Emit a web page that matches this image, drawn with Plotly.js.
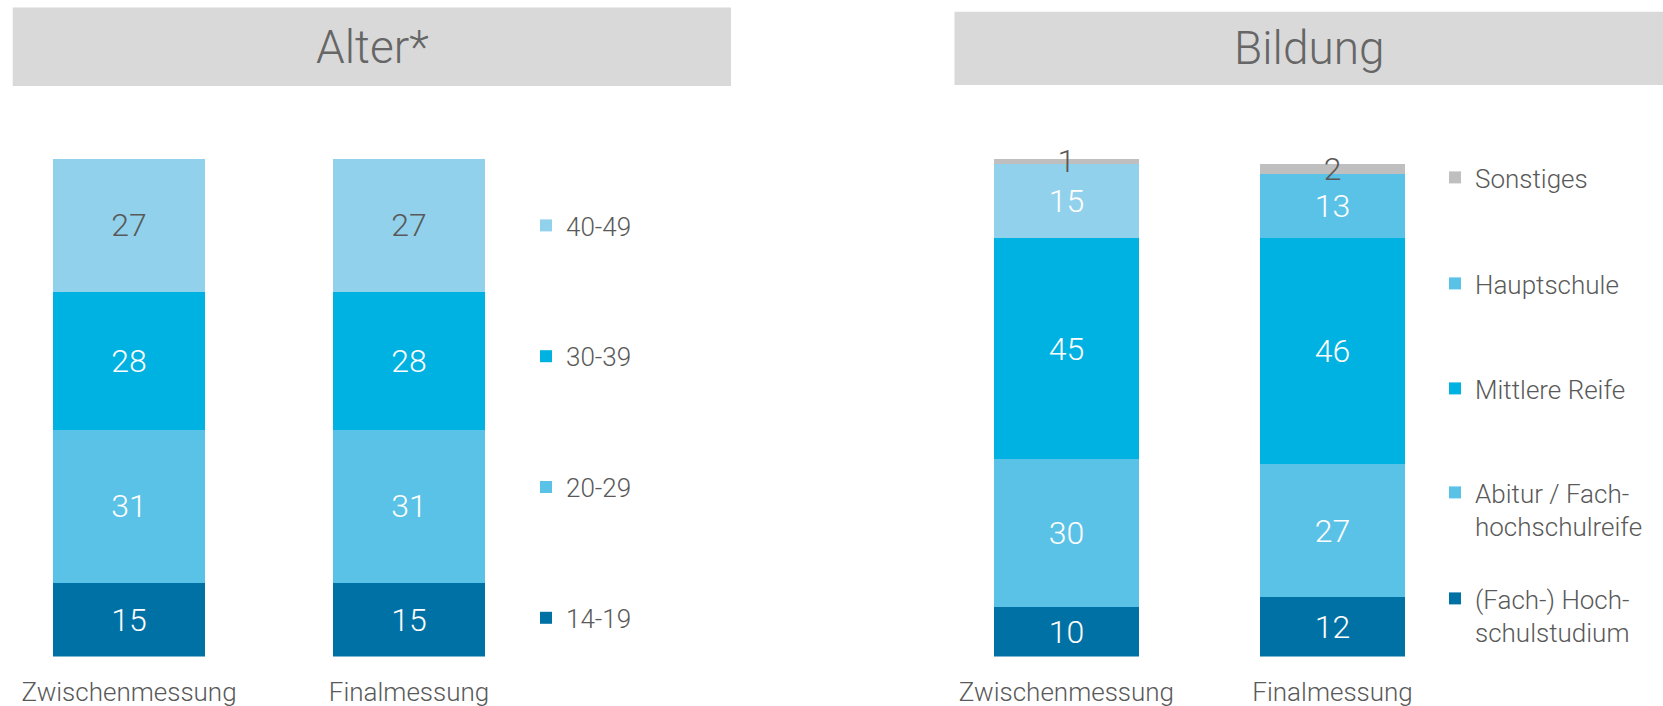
<!DOCTYPE html>
<html>
<head>
<meta charset="utf-8">
<script src="https://cdn.plot.ly/plotly-3.0.1.min.js"></script>
<style>
  html, body { margin: 0; padding: 0; background: #ffffff; }
  #chart { width: 1663px; height: 706px; }
</style>
</head>
<body>
<div id="chart"></div>
<script>
// ---- Data ----
const categories = ['Zwischenmessung', 'Finalmessung'];

// Alter* (age groups), values in %
const ageGroups = ['14-19', '20-29', '30-39', '40-49'];
const age1419 = [15, 15];
const age2029 = [31, 31];
const age3039 = [28, 28];
const age4049 = [27, 27];

// Bildung (education), values in %
const eduGroups = ['(Fach-) Hoch-<br>schulstudium', 'Abitur / Fach-<br>hochschulreife', 'Mittlere Reife', 'Hauptschule', 'Sonstiges'];
const eduHoch   = [10, 12];
const eduAbi    = [30, 27];
const eduMittel = [45, 46];
const eduHaupt  = [15, 13];
const eduSonst  = [1, 2];

// ---- Styling ----
const FONT = 'Roboto';
const TXT = '#595959';
const cDark = '#0071A4', cMid = '#5BC2E7', cStrong = '#00B2E2', cLight = '#92D1EC', cGray = '#BFBFBF';
const W = 1663, H = 706;
const px = v => v / W;
const py = v => 1 - v / H;

const labelFont = (color) => ({family: FONT, size: 32, weight: 300, color: color});

function bar(name, x, y, color, textColor, xa, ya, width, legend, group, rank) {
  return {
    type: 'bar', name: name, x: x, y: y,
    xaxis: xa, yaxis: ya, width: width,
    marker: {color: color, line: {width: 0}},
    text: y.map(String), textposition: 'inside', insidetextanchor: 'middle',
    textangle: 0, constraintext: 'none',
    textfont: labelFont(textColor),
    hoverinfo: 'skip', legend: legend, legendgroup: group, legendrank: rank
  };
}

const wL = 0.543, wR = 0.547;
const traces = [
  bar(ageGroups[0], categories, age1419, cDark, '#ffffff', 'x', 'y', wL, 'legend', 'a1', 4),
  bar(ageGroups[1], categories, age2029, cMid, '#ffffff', 'x', 'y', wL, 'legend', 'a2', 3),
  bar(ageGroups[2], categories, age3039, cStrong, '#ffffff', 'x', 'y', wL, 'legend', 'a3', 2),
  bar(ageGroups[3], categories, age4049, cLight, TXT, 'x', 'y', wL, 'legend', 'a4', 1),

  bar(eduGroups[0], categories, eduHoch, cDark, '#ffffff', 'x2', 'y2', wR, 'legend2', 'b1', 5),
  bar(eduGroups[1], categories, eduAbi, cMid, '#ffffff', 'x2', 'y2', wR, 'legend3', 'b2', 4),
  bar(eduGroups[2], categories, eduMittel, cStrong, '#ffffff', 'x2', 'y2', wR, 'legend4', 'b3', 3),
  // Hauptschule: lighter in the first bar; listed Final first so legend swatch takes the Final colour
  bar(eduGroups[3], categories.slice().reverse(), eduHaupt.slice().reverse(), [cMid, cLight], '#ffffff', 'x2', 'y2', wR, 'legend5', 'b4', 2),
  bar(eduGroups[4], categories, eduSonst, cGray, TXT, 'x2', 'y2', wR, 'legend6', 'b5', 1)
];

const xaxisBase = {
  type: 'category', categoryorder: 'array', categoryarray: categories,
  range: [-0.4, 1.4], fixedrange: true,
  showgrid: false, zeroline: false, showline: false, ticks: '',
  ticklabelstandoff: 17,
  tickfont: {family: FONT, size: 26, weight: 300, color: TXT}
};
const yaxisBase = {
  range: [0, 110], domain: [py(656.5), py(114.6)],
  visible: false, fixedrange: true, showgrid: false, zeroline: false
};

const legendBase = {
  bgcolor: 'rgba(0,0,0,0)', borderwidth: 0,
  font: {family: FONT, size: 26, weight: 300, color: TXT},
  xanchor: 'left', yanchor: 'top', valign: 'top',
  traceorder: 'grouped', itemclick: false, itemdoubleclick: false
};

const layout = {
  width: W, height: H,
  margin: {l: 0, r: 0, t: 0, b: 0},
  paper_bgcolor: '#ffffff', plot_bgcolor: '#ffffff',
  barmode: 'stack',
  showlegend: true,
  uniformtext: {mode: 'show', minsize: 32},
  xaxis: Object.assign({}, xaxisBase, {domain: [px(17), px(521)], anchor: 'y'}),
  yaxis: Object.assign({}, yaxisBase, {anchor: 'x'}),
  xaxis2: Object.assign({}, xaxisBase, {domain: [px(960), px(1439)], anchor: 'y2'}),
  yaxis2: Object.assign({}, yaxisBase, {anchor: 'x2'}),
  legend: Object.assign({}, legendBase, {x: px(526), y: py(202), tracegroupgap: 94}),
  legend2: Object.assign({}, legendBase, {x: px(1435), y: py(575)}),
  legend3: Object.assign({}, legendBase, {x: px(1435), y: py(469)}),
  legend4: Object.assign({}, legendBase, {x: px(1435), y: py(365)}),
  legend5: Object.assign({}, legendBase, {x: px(1435), y: py(260)}),
  legend6: Object.assign({}, legendBase, {x: px(1435), y: py(154)}),
  shapes: [
    {type: 'rect', xref: 'paper', yref: 'paper', x0: px(12.7), x1: px(731), y0: py(86), y1: py(7.4),
     fillcolor: '#D9D9D9', line: {width: 0}, layer: 'below'},
    {type: 'rect', xref: 'paper', yref: 'paper', x0: px(954.5), x1: px(1663), y0: py(85), y1: py(11.7),
     fillcolor: '#D9D9D9', line: {width: 0}, layer: 'below'}
  ],
  annotations: [
    {text: 'Alter*', xref: 'paper', yref: 'paper', x: px(372), y: py(47), xanchor: 'center', yanchor: 'middle',
     showarrow: false, font: {family: FONT, size: 46, weight: 300, color: '#666666'}},
    {text: 'Bildung', xref: 'paper', yref: 'paper', x: px(1309), y: py(48), xanchor: 'center', yanchor: 'middle',
     showarrow: false, font: {family: FONT, size: 46, weight: 300, color: '#666666'}}
  ]
};

Plotly.newPlot('chart', traces, layout, {displayModeBar: false, staticPlot: true});
</script>
</body>
</html>
